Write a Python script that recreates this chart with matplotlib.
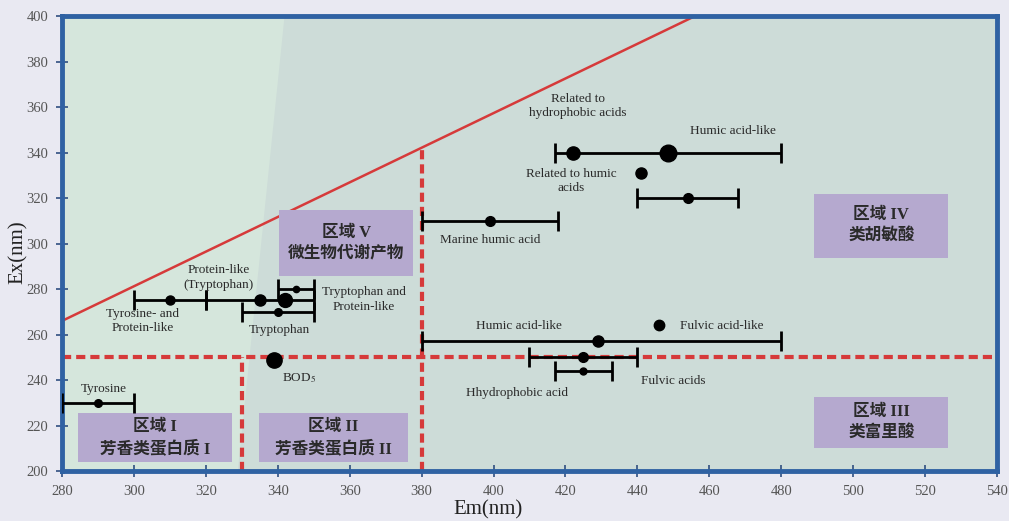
import numpy as np
import matplotlib.pyplot as plt
from matplotlib.patches import Rectangle, Polygon

plt.rcParams['font.family'] = ['Liberation Serif', 'Noto Sans CJK SC']
plt.rcParams['mathtext.fontset'] = 'stix'

# fluorescence components with an Em range (error bar)
bar_em = [290, 310, 335, 345, 340, 399, 448.5, 454, 429, 425, 425]
bar_ex = [230, 275, 275, 280, 270, 310, 340, 320, 257, 250, 244]
bar_lo = [10, 10, 15, 5, 10, 19, 31.5, 14, 49, 15, 8]
bar_hi = [10, 10, 15, 5, 10, 19, 31.5, 14, 51, 15, 8]
bar_ms = [5.5, 6.5, 8, 4.5, 5.5, 7, 12, 7, 8, 7, 5]

# single points without a range
dot_em = [342, 422, 441, 446, 339]
dot_ex = [275, 340, 331, 264, 249]
dot_ms = [10, 9.5, 8, 7.5, 11]

# text labels
labels = ['Tyrosine', 'Tyrosine- and\nProtein-like', 'Protein-like\n(Tryptophan)',
          'Tryptophan and\nProtein-like', 'Tryptophan', 'BOD$_5$',
          'Related to\nhydrophobic acids', 'Humic acid-like', 'Related to humic\nacids',
          'Marine humic acid', 'Humic acid-like', 'Fulvic acid-like',
          'Fulvic acids', 'Hhydrophobic acid']
label_em = [291.5, 302.5, 323.5, 364, 340.5, 346, 423.5, 466.5, 421.5, 399, 407, 452, 450, 406.5]
label_ex = [236, 266, 285, 275.5, 262, 241, 360.5, 349.5, 327.5, 301.5, 263.75, 263.75, 239.6, 234.2]
label_ha = ['center'] * 11 + ['left', 'center', 'center']

# region boxes: (em0, em1, ex0, ex1)
regions = ['区域 I\n芳香类蛋白质 I', '区域 II\n芳香类蛋白质 II', '区域 V\n微生物代谢产物',
           '区域 IV\n类胡敏酸', '区域 III\n类富里酸']
region_em0 = [284.5, 334.8, 340.4, 489.2, 489.2]
region_em1 = [327.3, 376.2, 377.6, 526.5, 526.5]
region_ex0 = [203.8, 203.8, 285.7, 293.7, 210]
region_ex1 = [225.4, 225.4, 314.6, 322, 232.5]

# boundary lines
diag_em = [280, 456]
diag_ex = [266, 400]
split_ex = 250
split_em1 = 330
split_em2 = 380

fig = plt.figure(figsize=(10.09, 5.21), dpi=100)
fig.patch.set_facecolor('#e9e9f2')
ax = fig.add_axes([0.0615, 0.096, 0.9265, 0.873])
ax.set_facecolor('#cddcd8')

# lighter glare strip on the left
ax.add_patch(Polygon([[0, 0], [0.188, 0], [0.238, 1], [0, 1]], closed=True,
                     transform=ax.transAxes, facecolor='#d5e6dc', edgecolor='none', zorder=0))

ax.set_xlim(280, 540)
ax.set_ylim(200, 400)
ax.set_xticks(np.arange(280, 541, 20))
ax.set_yticks(np.arange(200, 401, 20))

red = '#d63a3a'
ax.plot(diag_em, diag_ex, color=red, lw=1.8, zorder=2)
slope = (diag_ex[1] - diag_ex[0]) / (diag_em[1] - diag_em[0])
top380 = diag_ex[0] + slope * (split_em2 - diag_em[0])
dash = (0, (2.2, 1.2))
ax.plot([280, 540], [split_ex, split_ex], color=red, lw=3, ls=dash, zorder=2)
ax.plot([split_em1, split_em1], [200, split_ex], color=red, lw=3, ls=dash, zorder=2)
ax.plot([split_em2, split_em2], [200, top380], color=red, lw=3, ls=dash, zorder=2)

for r, e0, e1, x0, x1 in zip(regions, region_em0, region_em1, region_ex0, region_ex1):
    ax.add_patch(Rectangle((e0, x0), e1 - e0, x1 - x0, facecolor='#b5a9cf',
                           edgecolor='none', zorder=3))
    ax.text((e0 + e1) / 2, (x0 + x1) / 2, r, ha='center', va='center', fontsize=12,
            fontweight='bold', color='#2a2a2a', linespacing=1.4, zorder=4)

for x, y, lo, hi, ms in zip(bar_em, bar_ex, bar_lo, bar_hi, bar_ms):
    ax.errorbar([x], [y], xerr=[[lo], [hi]], fmt='o', color='black', ms=ms,
                elinewidth=2, capsize=7.5, capthick=2, zorder=5)

for x, y, ms in zip(dot_em, dot_ex, dot_ms):
    ax.plot(x, y, 'o', color='black', ms=ms, zorder=6)

for t, x, y, ha in zip(labels, label_em, label_ex, label_ha):
    ax.text(x, y, t, ha=ha, va='center', fontsize=9.5, color='#2a2a2a',
            linespacing=1.3, zorder=6)

for s in ax.spines.values():
    s.set_color('#2f62a3')
    s.set_linewidth(3.5)
ax.tick_params(direction='inout', length=8, width=1.2, color='#2f4f80',
               labelsize=10.5, labelcolor='#555555', pad=6)

ax.set_xlabel('Em(nm)', fontsize=15, color='#222222', labelpad=2)
ax.xaxis.set_label_coords((488 - 62) / 935, -0.065)
ax.set_ylabel('Ex(nm)', fontsize=15, color='#222222')
ax.yaxis.set_label_coords(-0.037, 0.48)

fig.savefig('out.png', dpi=100, facecolor=fig.get_facecolor())
